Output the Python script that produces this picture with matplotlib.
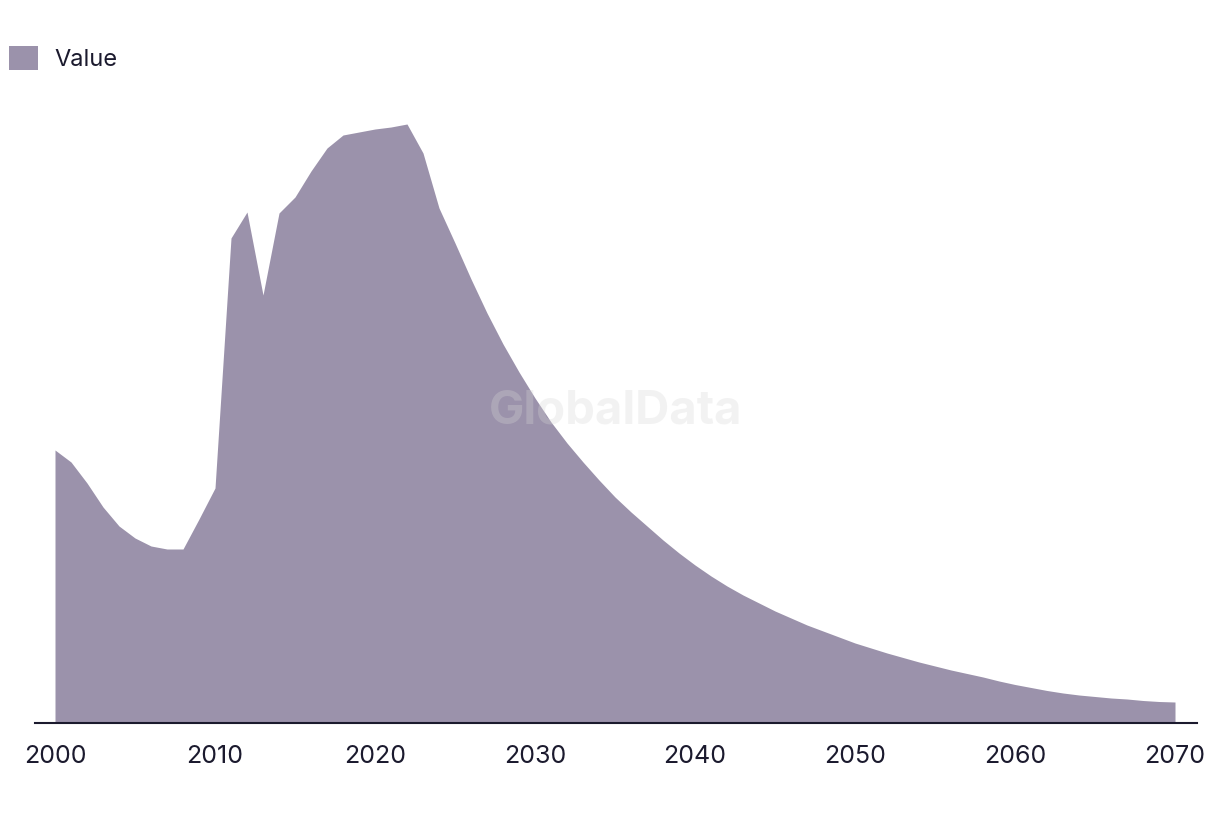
import matplotlib

matplotlib.use("Agg")
import matplotlib.pyplot as plt
from matplotlib.patches import Patch

years = list(range(2000, 2071))
values = [
    273, 261, 240, 216, 197, 185, 177, 174, 174, 204,        # 2000-2009
    235, 485, 511, 428, 510, 526, 552, 575, 588, 591,        # 2010-2019
    594, 596, 599, 570, 515, 480, 444, 410, 379, 351,        # 2020-2029
    325, 301, 280, 261, 243, 226, 211, 197, 183, 170,        # 2030-2039
    158, 147, 137, 128, 120, 112, 105, 98, 92, 86,           # 2040-2049
    80, 75, 70, 65.5, 61, 57, 53, 49.5, 46, 42,              # 2050-2059
    38.5, 35.5, 32.5, 30, 28, 26.5, 25, 24, 22.5, 21.5,      # 2060-2069
    21,                                                      # 2070
]
tick_years = [2000, 2010, 2020, 2030, 2040, 2050, 2060, 2070]
series_label = "Value"

FILL = "#9b92ab"
INK = "#1b1a2e"

plt.rcParams["font.family"] = ["Inter", "DejaVu Sans"]

fig = plt.figure(figsize=(12.2, 8.14), dpi=100)
ax = fig.add_axes([35 / 1220, 1 - 723 / 814, (1197 - 35) / 1220, (723 - 100) / 814])

ax.fill_between(years, 0, values, color=FILL, linewidth=0)
ax.set_xlim(1998.75, 2071.375)
ax.set_ylim(0, 623)

for side in ("top", "right", "left"):
    ax.spines[side].set_visible(False)
ax.spines["bottom"].set_color(INK)
ax.spines["bottom"].set_linewidth(1.5)
ax.set_yticks([])
ax.set_xticks(tick_years)
ax.set_xticklabels([str(t) for t in tick_years])
ax.tick_params(axis="x", length=0, pad=16, labelsize=18, labelcolor=INK)

# faint watermark
ax.text(0.5, 0.5, "GlobalData", transform=ax.transAxes, ha="center", va="center",
        fontsize=34, fontweight="bold", color="#d6d6d6", alpha=0.3, zorder=3)

fig.legend(handles=[Patch(facecolor=FILL, edgecolor="none", label=series_label)],
           loc="upper left", bbox_to_anchor=(0.0, 0.955), frameon=False,
           fontsize=17, labelcolor=INK, handlelength=1.2, handleheight=1.2,
           handletextpad=0.7, borderaxespad=0.0)

fig.savefig("out.png", dpi=100)
